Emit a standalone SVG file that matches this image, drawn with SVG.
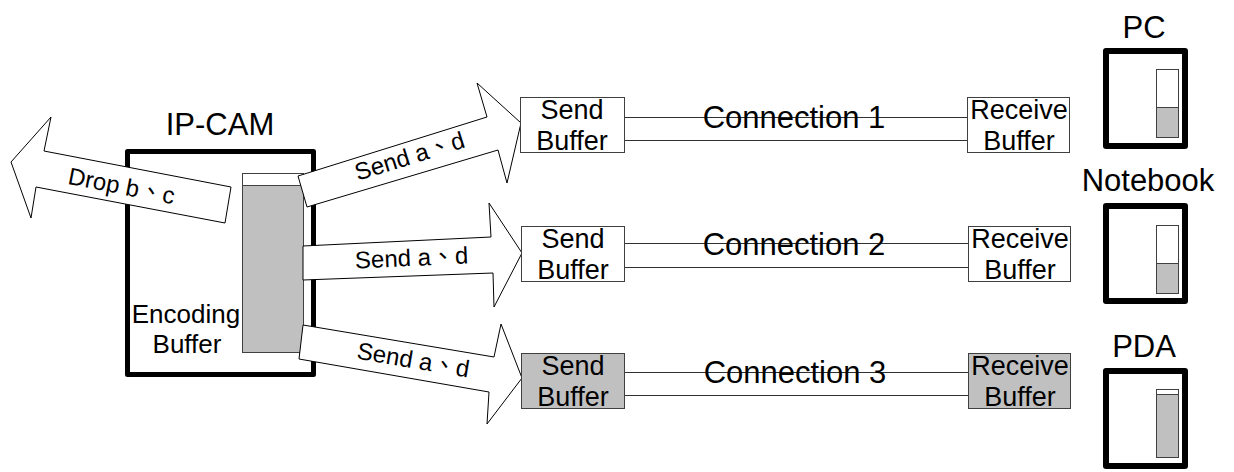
<svg xmlns="http://www.w3.org/2000/svg" width="1234" height="472" viewBox="0 0 1234 472">
<style>
text{font-family:"Liberation Sans","Noto Sans CJK TC",Arial,sans-serif;fill:#000}
.lbl{font-size:31px;text-anchor:middle}
.buf{font-size:27px;text-anchor:middle}
.enc{font-size:26px;text-anchor:middle}
.conn{font-size:31px;text-anchor:middle}
.arr{font-size:24px;text-anchor:middle}
.big{fill:#fff;stroke:#000;stroke-width:5;stroke-linejoin:round}
.dev{fill:#fff;stroke:#000;stroke-width:6;stroke-linejoin:round}
.thin{stroke:#404040;stroke-width:1}
.grey{fill:#c0c0c0}
.white{fill:#fff}
.arrow{fill:#fff;stroke:#000;stroke-width:1;stroke-linejoin:miter}
.line{stroke:#303030;stroke-width:1.2;fill:none}
</style>

<g id="ipcam">
  <text class="lbl" x="220" y="135">IP-CAM</text>
  <rect class="big" x="127.5" y="151.5" width="186" height="223"/>
  <rect class="thin white" x="242.5" y="173.5" width="61" height="12"/>
  <rect class="thin grey" x="242.5" y="185.5" width="61" height="167"/>
  <text class="enc" x="186" y="323">Encoding</text>
  <text class="enc" x="187" y="353">Buffer</text>
</g>

<g id="connectors">
  <polygon class="arrow" points="11,162 51,117 44,151 231,187 225,223 36,187 31,218"/>
  <text class="arr" transform="translate(120,194) rotate(11)">Drop b、c</text>

  <polygon class="arrow" points="298,176 487,117 477,83 521,123 507,183 498,150 307,207"/>
  <text class="arr" transform="translate(412,164) rotate(-17.3)">Send a、d</text>

  <polygon class="arrow" points="303,246 491,237 489,203 522,253 494,307 493,273 303,280"/>
  <text class="arr" transform="translate(412,266) rotate(-2.5)">Send a、d</text>

  <polygon class="arrow" points="303,325 494,357 501,324 522,378 487,424 489,392 299,359"/>
  <text class="arr" transform="translate(412,368) rotate(9.6)">Send a、d</text>

  <line class="line" x1="625" y1="117.5" x2="968" y2="117.5"/>
  <line class="line" x1="625" y1="140.5" x2="968" y2="140.5"/>
  <line class="line" x1="625" y1="243.5" x2="968" y2="243.5"/>
  <line class="line" x1="625" y1="267.5" x2="968" y2="267.5"/>
  <line class="line" x1="625" y1="372.5" x2="968" y2="372.5"/>
  <line class="line" x1="625" y1="395.5" x2="968" y2="395.5"/>
  <text class="conn" x="794" y="128">Connection 1</text>
  <text class="conn" x="794" y="255">Connection 2</text>
  <text class="conn" x="795" y="383">Connection 3</text>
</g>

<g id="send1">
  <rect class="thin white" x="520.5" y="97.5" width="104" height="55"/>
  <text class="buf" x="572" y="119">Send</text>
  <text class="buf" x="572" y="150">Buffer</text>
</g>
<g id="send2">
  <rect class="thin white" x="521.5" y="226.5" width="103" height="55"/>
  <text class="buf" x="573" y="248">Send</text>
  <text class="buf" x="573" y="279">Buffer</text>
</g>
<g id="send3">
  <rect class="thin grey" x="521.5" y="353.5" width="103" height="55"/>
  <text class="buf" x="573" y="375">Send</text>
  <text class="buf" x="573" y="406">Buffer</text>
</g>

<g id="recv1">
  <rect class="thin white" x="967.5" y="97.5" width="102" height="55"/>
  <text class="buf" x="1019" y="119">Receive</text>
  <text class="buf" x="1019" y="150">Buffer</text>
</g>
<g id="recv2">
  <rect class="thin white" x="968.5" y="226.5" width="102" height="55"/>
  <text class="buf" x="1020" y="248">Receive</text>
  <text class="buf" x="1020" y="279">Buffer</text>
</g>
<g id="recv3">
  <rect class="thin grey" x="968.5" y="353.5" width="102" height="55"/>
  <text class="buf" x="1020" y="375">Receive</text>
  <text class="buf" x="1020" y="406">Buffer</text>
</g>

<g id="pc">
  <text class="lbl" x="1144" y="38">PC</text>
  <rect class="dev" x="1106" y="51" width="79" height="95"/>
  <rect class="thin white" x="1156.5" y="69.5" width="22" height="38"/>
  <rect class="thin grey" x="1156.5" y="107.5" width="22" height="30"/>
</g>
<g id="notebook">
  <text class="lbl" x="1148" y="191">Notebook</text>
  <rect class="dev" x="1106" y="206" width="79" height="95"/>
  <rect class="thin white" x="1156.5" y="225.5" width="22" height="38"/>
  <rect class="thin grey" x="1156.5" y="263.5" width="22" height="30"/>
</g>
<g id="pda">
  <text class="lbl" x="1144" y="357">PDA</text>
  <rect class="dev" x="1106" y="371" width="79" height="95"/>
  <rect class="thin white" x="1156.5" y="389.5" width="22" height="5"/>
  <rect class="thin grey" x="1156.5" y="394.5" width="22" height="63"/>
</g>
</svg>
